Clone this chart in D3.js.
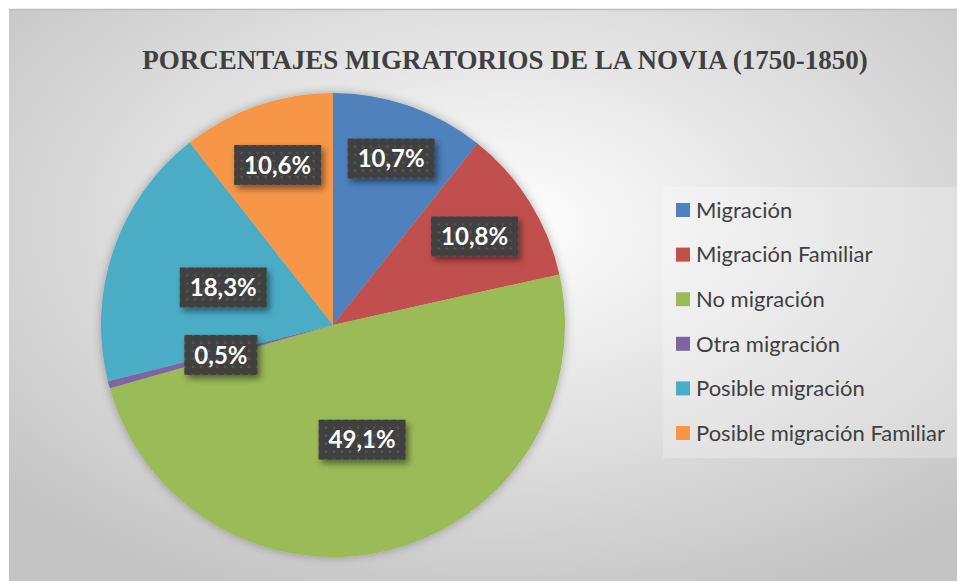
<!doctype html>
<html lang="es">
<head>
<meta charset="utf-8">
<title>Porcentajes migratorios de la novia</title>
<script src="https://cdn.jsdelivr.net/npm/d3@7"></script>
<style>
  body { margin: 0; background: #fff; }
  svg { display: block; }
</style>
</head>
<body>
<div id="chart"></div>
<script>
var categories = ["Migración", "Migración Familiar", "No migración", "Otra migración", "Posible migración", "Posible migración Familiar"];
var values = [10.7, 10.8, 49.1, 0.5, 18.3, 10.6];
var labels = ["10,7%", "10,8%", "49,1%", "0,5%", "18,3%", "10,6%"];
var colors = ["#4F81BD", "#C0504D", "#9BBB59", "#8064A2", "#4BACC6", "#F79646"];
// how far out each label sits, as a share of the radius (Excel "best fit")
var labelReach = [0.76, 0.72, 0.51, 0.5, 0.5, 0.73];

var width = 957, height = 581;
var cx = 333, cy = 325, radius = 232;

var svg = d3.select("#chart").append("svg")
    .attr("width", width)
    .attr("height", height);

var defs = svg.append("defs");

var bg = defs.append("radialGradient").attr("id", "bg")
    .attr("cx", "52%").attr("cy", "38%").attr("r", "70%");
bg.append("stop").attr("offset", "0%").attr("stop-color", "#ffffff");
bg.append("stop").attr("offset", "100%").attr("stop-color", "#c4c4c4");

var pat = defs.append("pattern").attr("id", "dots")
    .attr("width", 8).attr("height", 8)
    .attr("patternUnits", "userSpaceOnUse");
pat.append("rect").attr("width", 8).attr("height", 8).attr("fill", "#404040");
pat.append("circle").attr("cx", 4).attr("cy", 4).attr("r", 1.3).attr("fill", "#575757");

var sh = defs.append("filter").attr("id", "shadow")
    .attr("x", "-20%").attr("y", "-20%").attr("width", "150%").attr("height", "160%");
sh.append("feDropShadow").attr("dx", 3).attr("dy", 4).attr("stdDeviation", 3)
    .attr("flood-color", "#000").attr("flood-opacity", 0.45);

var pieSh = defs.append("filter").attr("id", "pieshadow")
    .attr("x", "-10%").attr("y", "-10%").attr("width", "120%").attr("height", "120%");
pieSh.append("feDropShadow").attr("dx", 0).attr("dy", 0).attr("stdDeviation", 5)
    .attr("flood-color", "#000").attr("flood-opacity", 0.3);

// chart area
svg.append("rect")
    .attr("x", 9).attr("y", 9)
    .attr("width", width - 9).attr("height", height - 9)
    .attr("fill", "url(#bg)");
svg.append("line")
    .attr("x1", 9).attr("x2", width).attr("y1", 9.5).attr("y2", 9.5)
    .attr("stroke", "#bdbdbd").attr("stroke-width", 1.5);

svg.append("text")
    .attr("x", 505).attr("y", 69)
    .attr("text-anchor", "middle")
    .attr("font-family", "'Liberation Serif', 'Times New Roman', serif")
    .attr("font-weight", "bold")
    .attr("font-size", 27)
    .attr("fill", "#404040")
    .text("PORCENTAJES MIGRATORIOS DE LA NOVIA (1750-1850)");

var pie = d3.pie().sort(null).value(function (d) { return d; });
var arcs = pie(values);
var arc = d3.arc().innerRadius(0).outerRadius(radius);

var g = svg.append("g").attr("transform", "translate(" + cx + "," + cy + ")");

g.append("g").attr("filter", "url(#pieshadow)")
  .selectAll("path")
  .data(arcs)
  .enter().append("path")
    .attr("d", arc)
    .attr("fill", function (d, i) { return colors[i]; });

var lab = g.selectAll(".lab")
  .data(arcs)
  .enter().append("g")
    .attr("class", "lab")
    .attr("transform", function (d, i) {
        var a = (d.startAngle + d.endAngle) / 2;
        var r = radius * labelReach[i];
        return "translate(" + (Math.sin(a) * r) + "," + (-Math.cos(a) * r) + ")";
    });

lab.append("rect").attr("class", "box")
    .attr("fill", "url(#dots)")
    .attr("filter", "url(#shadow)");

lab.append("text")
    .attr("text-anchor", "middle")
    .attr("dy", "0.36em")
    .attr("font-family", "Lato, 'Open Sans', sans-serif")
    .attr("font-weight", "bold")
    .attr("font-size", 24)
    .attr("fill", "#ffffff")
    .text(function (d, i) { return labels[i]; });

lab.each(function () {
    var t = d3.select(this).select("text").node().getBBox();
    d3.select(this).select("rect")
        .attr("x", -t.width / 2 - 10)
        .attr("y", -20)
        .attr("width", t.width + 20)
        .attr("height", 40);
});

// legend
var legend = svg.append("g").attr("transform", "translate(663,187)");
legend.append("rect")
    .attr("width", 294).attr("height", 271)
    .attr("fill", "#ffffff").attr("fill-opacity", 0.25);

var item = legend.selectAll(".item")
  .data(categories)
  .enter().append("g")
    .attr("class", "item")
    .attr("transform", function (d, i) { return "translate(13," + (23 + i * 44.6) + ")"; });

item.append("rect")
    .attr("x", 0).attr("y", -7)
    .attr("width", 14).attr("height", 14)
    .attr("fill", function (d, i) { return colors[i]; });

item.append("text")
    .attr("x", 20)
    .attr("dy", "0.35em")
    .attr("font-family", "Lato, 'Open Sans', sans-serif")
    .attr("font-size", 22)
    .attr("fill", "#404040")
    .text(function (d) { return d; });
</script>
</body>
</html>
